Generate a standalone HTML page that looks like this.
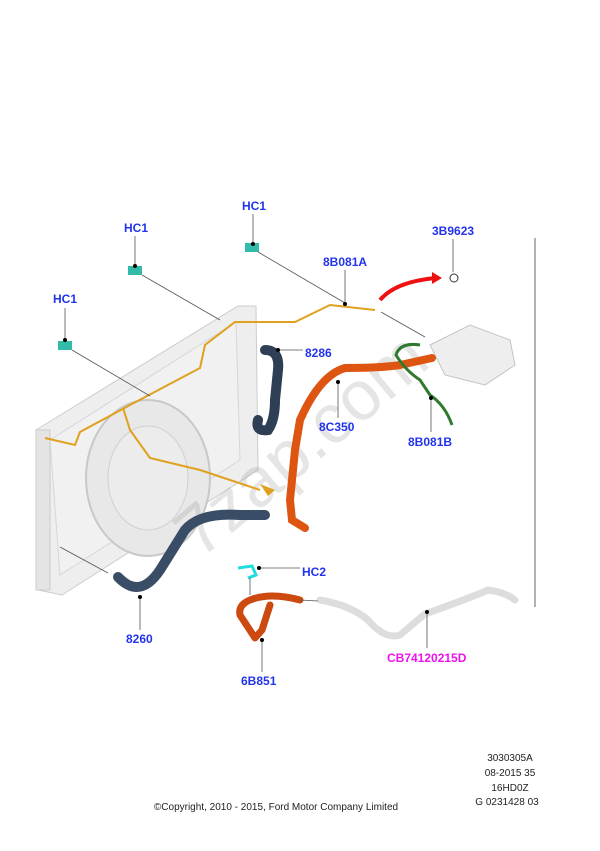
<!DOCTYPE html>
<html><head><style>
html,body{margin:0;padding:0;background:#fff;}
svg{display:block}
text{font-family:"Liberation Sans",sans-serif;}
.l{font-weight:bold;font-size:12px;fill:#2233ee}
.f{font-size:10px;fill:#222}
</style></head><body>
<svg width="600" height="851" viewBox="0 0 600 851" xmlns="http://www.w3.org/2000/svg">
<rect width="600" height="851" fill="#fff"/>
<line x1="535" y1="238" x2="535" y2="607" stroke="#666" stroke-width="1"/>
<!-- radiator -->
<polygon points="36,430 238,306 256,306 258,470 62,595 38,590" fill="#eeeeee" stroke="#ccc"/>
<polygon points="50,440 236,322 240,460 60,575" fill="#f1f1f1" stroke="#d6d6d6"/>
<ellipse cx="148" cy="478" rx="62" ry="78" fill="#e8e8e8" stroke="#c8c8c8" stroke-width="2"/>
<ellipse cx="148" cy="478" rx="40" ry="52" fill="#ececec" stroke="#d0d0d0"/>
<rect x="36" y="430" width="14" height="160" fill="#e4e4e4" stroke="#ccc"/>
<!-- watermark -->
<text x="200" y="560" transform="rotate(-40 200 560)" font-size="70" fill="#999" opacity="0.25" font-family="Liberation Sans,sans-serif">7zap.com</text>
<!-- reservoir -->
<polygon points="430,345 470,325 510,340 515,365 485,385 445,375" fill="#eeeeee" stroke="#c4c4c4"/>
<!-- yellow pipe -->
<path d="M45,438 L75,445 L80,432 L130,405 L200,368 L205,345 L235,322 L295,322 L330,305 L375,310" fill="none" stroke="#e0a020" stroke-width="2"/>
<path d="M123,408 L130,430 L150,458 L200,470 L260,490" fill="none" stroke="#e0a020" stroke-width="2"/>
<path d="M260,484 L275,490 L268,496 Z" fill="#e0a020"/>
<!-- red arrow -->
<path d="M380,300 Q395,282 435,278" fill="none" stroke="#ee1111" stroke-width="4"/>
<polygon points="432,272 442,278 432,284" fill="#ee1111"/>
<circle cx="454" cy="278" r="4" fill="none" stroke="#333"/>
<!-- dark blue hoses -->
<path d="M265,350 Q280,350 278,370 L275,400 Q275,420 268,430 Q255,432 258,420" fill="none" stroke="#2e3f55" stroke-width="10" stroke-linecap="round"/>
<path d="M118,577 Q140,600 160,570 L185,530 Q200,512 240,515 L265,515" fill="none" stroke="#3a4d66" stroke-width="10" stroke-linecap="round"/>
<!-- orange 8C350 -->
<path d="M432,358 L400,365 Q380,368 345,368 Q320,375 300,420 L295,450 L290,500 L292,520 L305,528" fill="none" stroke="#dd5511" stroke-width="8" stroke-linecap="round"/>
<!-- green -->
<path d="M420,345 Q400,342 396,355 Q405,370 420,380 L430,395 Q445,405 452,425" fill="none" stroke="#2f7a2f" stroke-width="3"/>
<!-- 6B851 -->
<path d="M300,600 Q270,592 250,600 Q238,605 240,615 L255,638 L262,630 L270,605" fill="none" stroke="#cc4a10" stroke-width="7" stroke-linecap="round" stroke-linejoin="round"/>
<!-- HC2 -->
<path d="M238,568 L252,566 L256,575 L248,578" fill="none" stroke="#22dddd" stroke-width="3"/>
<!-- white hose -->
<path d="M320,600 Q350,605 368,620 Q385,640 400,635 L425,614 Q470,598 488,590 Q505,592 515,600" fill="none" stroke="#ddd" stroke-width="7" stroke-linecap="round"/>
<!-- HC1 clips -->
<g fill="#33bbaa"><rect x="128" y="266" width="14" height="9"/><rect x="245" y="243" width="14" height="9"/><rect x="58" y="341" width="14" height="9"/></g>
<!-- leaders -->
<g stroke="#555" stroke-width="0.8" fill="none">
<line x1="135" y1="236" x2="135" y2="268"/><line x1="142" y1="275" x2="220" y2="320"/>
<line x1="253" y1="214" x2="253" y2="245"/><line x1="258" y1="252" x2="345" y2="303"/>
<line x1="65" y1="308" x2="65" y2="342"/><line x1="72" y1="350" x2="150" y2="396"/>
<line x1="345" y1="270" x2="345" y2="305"/>
<line x1="453" y1="239" x2="453" y2="272"/>
<line x1="381" y1="312" x2="425" y2="337"/>
<line x1="278" y1="350" x2="303" y2="350"/>
<line x1="338" y1="382" x2="338" y2="418"/>
<line x1="431" y1="398" x2="431" y2="432"/>
<line x1="140" y1="597" x2="140" y2="630"/><line x1="60" y1="547" x2="108" y2="573"/>
<line x1="260" y1="568" x2="300" y2="568"/><line x1="250" y1="578" x2="250" y2="595"/>
<line x1="427" y1="612" x2="427" y2="648"/>
<line x1="262" y1="640" x2="262" y2="672"/>
<line x1="300" y1="600" x2="318" y2="601"/>
</g>
<g fill="#000">
<circle cx="135" cy="266" r="2"/><circle cx="253" cy="244" r="2"/><circle cx="65" cy="340" r="2"/>
<circle cx="345" cy="304" r="2"/><circle cx="278" cy="350" r="2"/><circle cx="338" cy="382" r="2"/>
<circle cx="431" cy="398" r="2"/><circle cx="140" cy="597" r="2"/><circle cx="259" cy="568" r="2"/>
<circle cx="427" cy="612" r="2"/><circle cx="262" cy="640" r="2"/>
</g>
<!-- labels -->
<text class="l" x="124" y="232">HC1</text>
<text class="l" x="242" y="210">HC1</text>
<text class="l" x="53" y="303">HC1</text>
<text class="l" x="323" y="266">8B081A</text>
<text class="l" x="432" y="235">3B9623</text>
<text class="l" x="305" y="357">8286</text>
<text class="l" x="319" y="431">8C350</text>
<text class="l" x="408" y="446">8B081B</text>
<text class="l" x="126" y="643">8260</text>
<text class="l" x="302" y="576">HC2</text>
<text class="l" x="387" y="662" style="fill:#ee11ee">CB74120215D</text>
<text class="l" x="241" y="685">6B851</text>
<text class="f" x="510" y="761" text-anchor="middle">3030305A</text>
<text class="f" x="510" y="776" text-anchor="middle">08-2015 35</text>
<text class="f" x="510" y="791" text-anchor="middle">16HD0Z</text>
<text class="f" x="507" y="805" text-anchor="middle">G 0231428 03</text>
<text class="f" x="276" y="810" text-anchor="middle">©Copyright, 2010 - 2015, Ford Motor Company Limited</text>
</svg>
</body></html>
